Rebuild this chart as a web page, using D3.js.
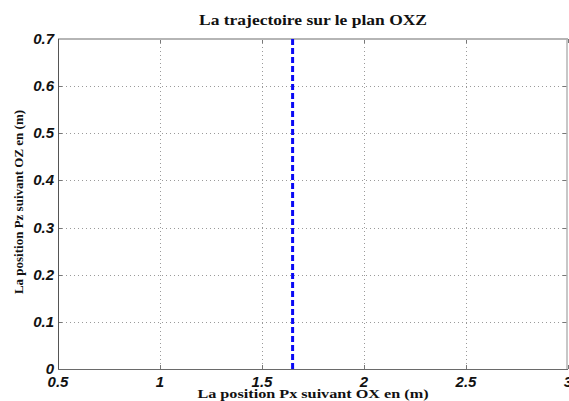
<!DOCTYPE html>
<html>
<head>
<meta charset="utf-8">
<script src="https://cdn.jsdelivr.net/npm/d3@7"></script>
<style>
  html, body { margin: 0; padding: 0; background: #fff; }
  svg { display: block; }
  .tick-label { font-family: "Liberation Sans", Arial, sans-serif; font-weight: bold; font-style: italic; font-size: 15px; fill: #111; }
  .title, .axis-title { font-family: "Liberation Serif", "Times New Roman", serif; font-weight: bold; fill: #111; }
</style>
</head>
<body>
<svg id="chart" width="569" height="401"></svg>
<script>
// Trajectory in the OXZ plane: constant X while Z sweeps the full range
const pathX = [1.65, 1.65];
const pathZ = [0, 0.7];

const xTicks = [0.5, 1, 1.5, 2, 2.5, 3];
const yTicks = [0, 0.1, 0.2, 0.3, 0.4, 0.5, 0.6, 0.7];
const xDomain = [0.5, 3];
const yDomain = [0, 0.7];

const titleText = "La trajectoire sur le plan OXZ";
const xLabelText = "La position Px suivant OX en (m)";
const yLabelText = "La position Pz suivant OZ en (m)";

const W = 569, H = 401;
const m = { left: 58, right: 1, top: 39, bottom: 32 };
const svg = d3.select("#chart");

const x = d3.scaleLinear().domain(xDomain).range([m.left, W - m.right]);
const y = d3.scaleLinear().domain(yDomain).range([H - m.bottom, m.top]);

// dotted grid
const grid = svg.append("g").attr("stroke", "#9a9a9a").attr("stroke-width", 1)
  .attr("stroke-dasharray", "1,3");
grid.selectAll(".gx").data(xTicks.slice(1, -1)).join("line")
  .attr("x1", d => Math.round(x(d)) + 0.5).attr("x2", d => Math.round(x(d)) + 0.5)
  .attr("y1", y(yDomain[1])).attr("y2", y(yDomain[0]));
grid.selectAll(".gy").data(yTicks.slice(1, -1)).join("line")
  .attr("y1", d => Math.round(y(d)) + 0.5).attr("y2", d => Math.round(y(d)) + 0.5)
  .attr("x1", x(xDomain[0])).attr("x2", x(xDomain[1]));

// small tick marks inside the box
const ticks = svg.append("g").attr("stroke", "#777").attr("stroke-width", 1);
xTicks.forEach(t => {
  const px = Math.round(x(t)) + 0.5;
  ticks.append("line").attr("x1", px).attr("x2", px).attr("y1", y(0)).attr("y2", y(0) - 4);
  ticks.append("line").attr("x1", px).attr("x2", px).attr("y1", y(0.7)).attr("y2", y(0.7) + 4);
});
yTicks.forEach(t => {
  const py = Math.round(y(t)) + 0.5;
  ticks.append("line").attr("y1", py).attr("y2", py).attr("x1", x(0.5)).attr("x2", x(0.5) + 4);
  ticks.append("line").attr("y1", py).attr("y2", py).attr("x1", x(3) - 1).attr("x2", x(3) - 5);
});

// axes box
svg.append("line").attr("x1", x(0.5)).attr("x2", x(3)).attr("y1", y(0.7)).attr("y2", y(0.7))
  .attr("stroke", "#b5b5b5").attr("stroke-width", 2);
svg.append("line").attr("x1", x(3) - 1).attr("x2", x(3) - 1).attr("y1", y(0.7)).attr("y2", y(0))
  .attr("stroke", "#b5b5b5").attr("stroke-width", 1.5);
svg.append("line").attr("x1", x(0.5)).attr("x2", x(3)).attr("y1", y(0) + 0.5).attr("y2", y(0) + 0.5)
  .attr("stroke", "#6a6a6a").attr("stroke-width", 1);
svg.append("line").attr("x1", x(0.5) + 0.5).attr("x2", x(0.5) + 0.5).attr("y1", y(0.7)).attr("y2", y(0))
  .attr("stroke", "#555").attr("stroke-width", 1);

// trajectory
const line = d3.line().x(d => x(d[0])).y(d => y(d[1]));
svg.append("path")
  .datum(pathX.map((v, i) => [v, pathZ[i]]))
  .attr("d", line)
  .attr("fill", "none").attr("stroke", "#0a0af5").attr("stroke-width", 3)
  .attr("stroke-dasharray", "6,3");

// tick labels
svg.append("g").selectAll("text").data(xTicks).join("text")
  .attr("class", "tick-label")
  .attr("x", d => x(d)).attr("y", 387)
  .attr("text-anchor", "middle")
  .text(d => d);
svg.append("g").selectAll("text").data(yTicks).join("text")
  .attr("class", "tick-label")
  .attr("x", 54).attr("y", d => y(d) + 5)
  .attr("text-anchor", "end")
  .text(d => d);

// titles (serif, slightly widened)
const cx = (x(0.5) + x(3)) / 2;
svg.append("text").attr("class", "title")
  .attr("transform", `translate(${cx}, 25) scale(1.25, 1)`)
  .attr("text-anchor", "middle").attr("font-size", 14)
  .text(titleText);
svg.append("text").attr("class", "axis-title")
  .attr("transform", `translate(${cx}, 398) scale(1.2, 1)`)
  .attr("text-anchor", "middle").attr("font-size", 13.5)
  .text(xLabelText);
svg.append("text").attr("class", "axis-title")
  .attr("transform", `translate(23, ${(y(0) + y(0.7)) / 2 - 2}) rotate(-90)`)
  .attr("text-anchor", "middle").attr("font-size", 13)
  .text(yLabelText);
</script>
</body>
</html>
